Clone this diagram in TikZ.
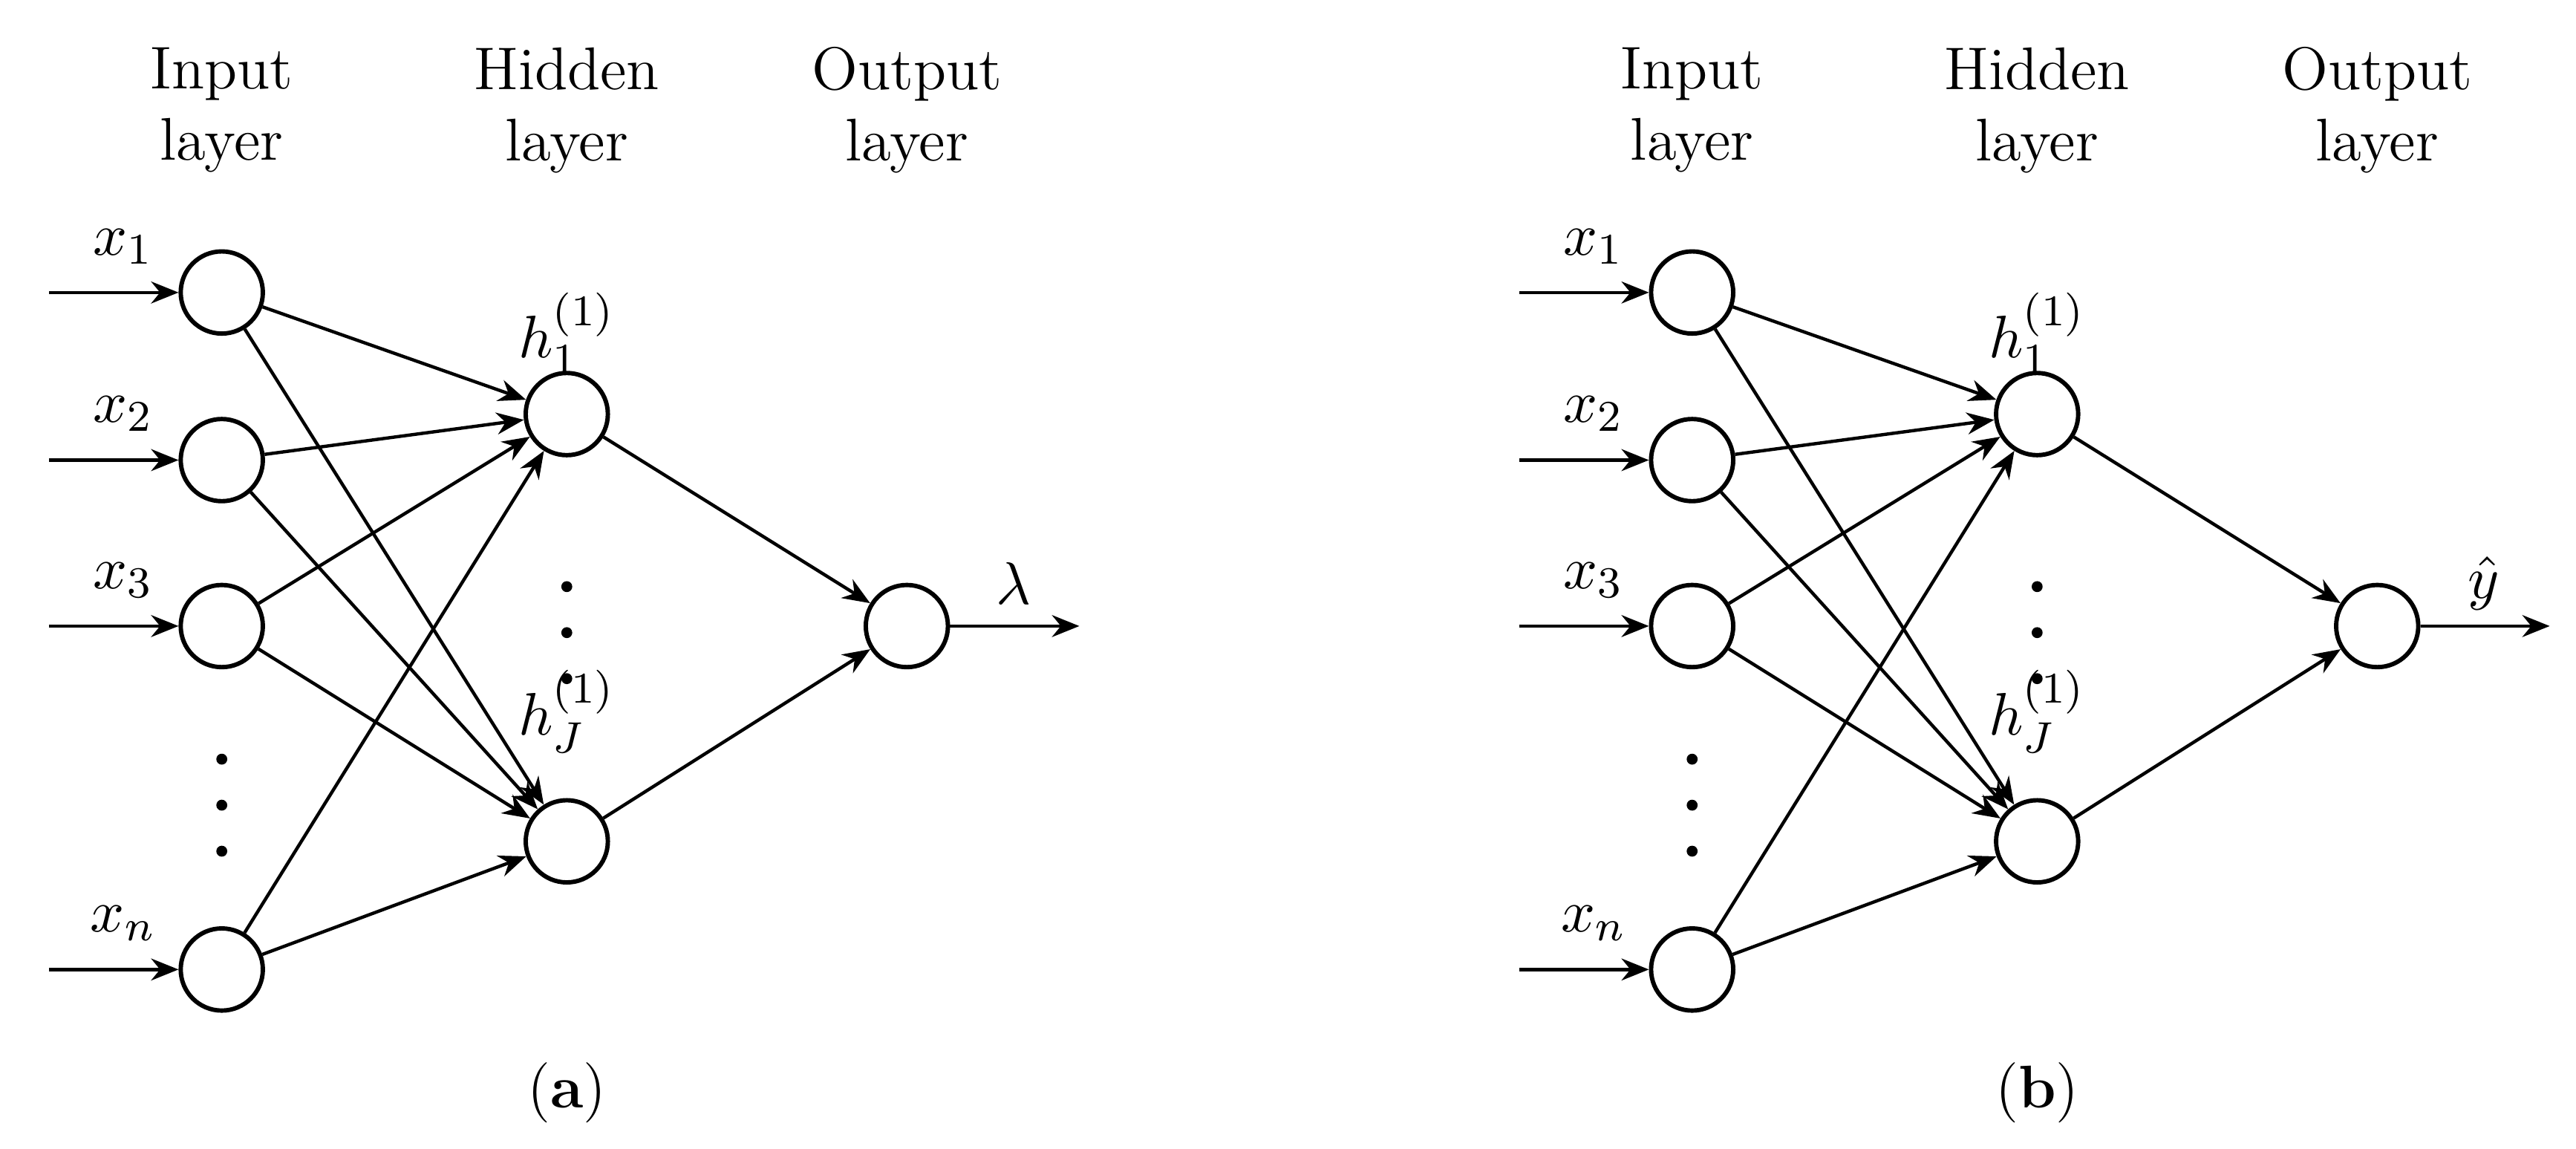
\documentclass[tikz,border=0pt]{standalone}
\usetikzlibrary{arrows.meta}
\begin{document}
\begin{tikzpicture}[x=0.3pt,y=-0.3pt,
  neu/.style={circle,draw,thick,minimum size=15pt,inner sep=0pt},
  con/.style={-{Stealth[length=5pt,width=4pt]},semithick},
  dot/.style={circle,fill,inner sep=0pt,minimum size=2pt},
  txt/.style={font=\fontsize{11}{13}\selectfont,align=center}]
\useasboundingbox (0,0) rectangle (1568,699);
\foreach \p/\ox/\out/\cap in {a/0/\lambda/a, b/895/\hat{y}/b}{
  \begin{scope}[xshift=\ox*0.3pt]
  \node[txt] (\p hi) at (135,67) {Input\\layer};
  \node[txt] (\p hh) at (345,67) {Hidden\\layer};
  \node[txt] (\p ho) at (552,67) {Output\\layer};
  \foreach \n/\y/\l in {1/178/x_1,2/280/x_2,3/381/x_3,4/590/x_n}{
    \node[neu] (\p i\n) at (135,\y) {};
    \coordinate (\p s\n) at (30,\y);
    \draw[con] (\p s\n) -- (\p i\n);
    \node[txt] (\p l\n) at (75,\y-28) {$\l$};
  }
  \foreach \y in {462,490,518}{\node[dot] at (135,\y) {};}
  \node[neu] (\p h1) at (345,252) {};
  \node[neu] (\p h2) at (345,512) {};
  \foreach \y in {357,385,413}{\node[dot] at (345,\y) {};}
  \node[txt] (\p lh1) at (345,203) {$h_1^{(1)}$};
  \node[txt] (\p lh2) at (345,433) {$h_J^{(1)}$};
  \node[neu] (\p o) at (552,381) {};
  \foreach \n in {1,2,3,4}{
    \draw[con] (\p i\n) -- (\p h1);
    \draw[con] (\p i\n) -- (\p h2);
  }
  \draw[con] (\p h1) -- (\p o);
  \draw[con] (\p h2) -- (\p o);
  \coordinate (\p e) at (657,381);
  \draw[con] (\p o) -- (\p e);
  \node[txt] (\p lo) at (617,355) {$\out$};
  \node[txt] (\p cap) at (345,665) {(\textbf{\cap})};
  \end{scope}
}
\end{tikzpicture}
\end{document}
